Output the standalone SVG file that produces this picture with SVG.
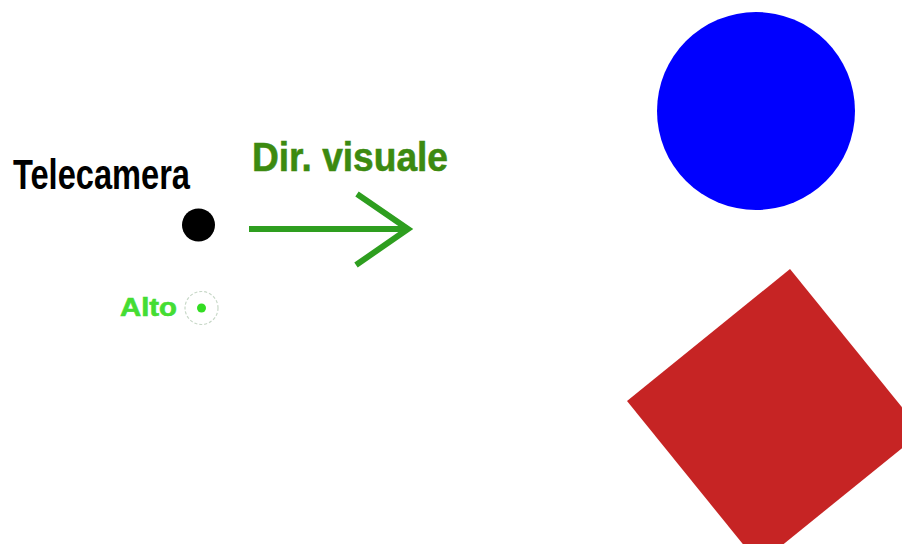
<svg xmlns="http://www.w3.org/2000/svg" width="902" height="544" viewBox="0 0 902 544">
  <style>
    .lbl { font-family: "Liberation Sans", Arial, sans-serif; font-weight: bold; }
    .dir { stroke: #2E9E1F; stroke-width: 6; fill: none; stroke-linecap: butt; stroke-linejoin: miter; }
  </style>
  <rect width="902" height="544" fill="#ffffff"/>

  <!-- camera -->
  <g id="camera">
    <text class="lbl" x="13" y="189" font-size="42" fill="#000000" textLength="177" lengthAdjust="spacingAndGlyphs">Telecamera</text>
    <circle cx="198.5" cy="225" r="16.5" fill="#000000"/>
  </g>

  <!-- "up" indicator: axis pointing out of the page -->
  <g id="up">
    <text class="lbl" x="120" y="316" font-size="25" fill="#44DD33" stroke="#44DD33" stroke-width="0.6" textLength="57" lengthAdjust="spacingAndGlyphs">Alto</text>
    <circle cx="201.5" cy="308" r="16.5" fill="none" stroke="#c8d8c8" stroke-width="1.2" stroke-dasharray="3 2"/>
    <circle cx="201.5" cy="308" r="4.5" fill="#33DD22"/>
  </g>

  <!-- viewing direction -->
  <g id="view-direction">
    <text class="lbl" x="252" y="171" font-size="40" fill="#3C8A10" stroke="#3C8A10" stroke-width="0.6" textLength="196" lengthAdjust="spacingAndGlyphs">Dir. visuale</text>
  </g>

  <g id="connectors">
    <line class="dir" x1="249" y1="229" x2="406" y2="229"/>
    <polyline class="dir" points="357,194 408,229 356,265"/>
  </g>

  <!-- scene objects -->
  <g id="sphere">
    <circle cx="756" cy="111" r="99" fill="#0000FF"/>
  </g>
  <g id="cube">
    <polygon points="790,269 922,432 759,564 627,401" fill="#C62424"/>
  </g>
</svg>
